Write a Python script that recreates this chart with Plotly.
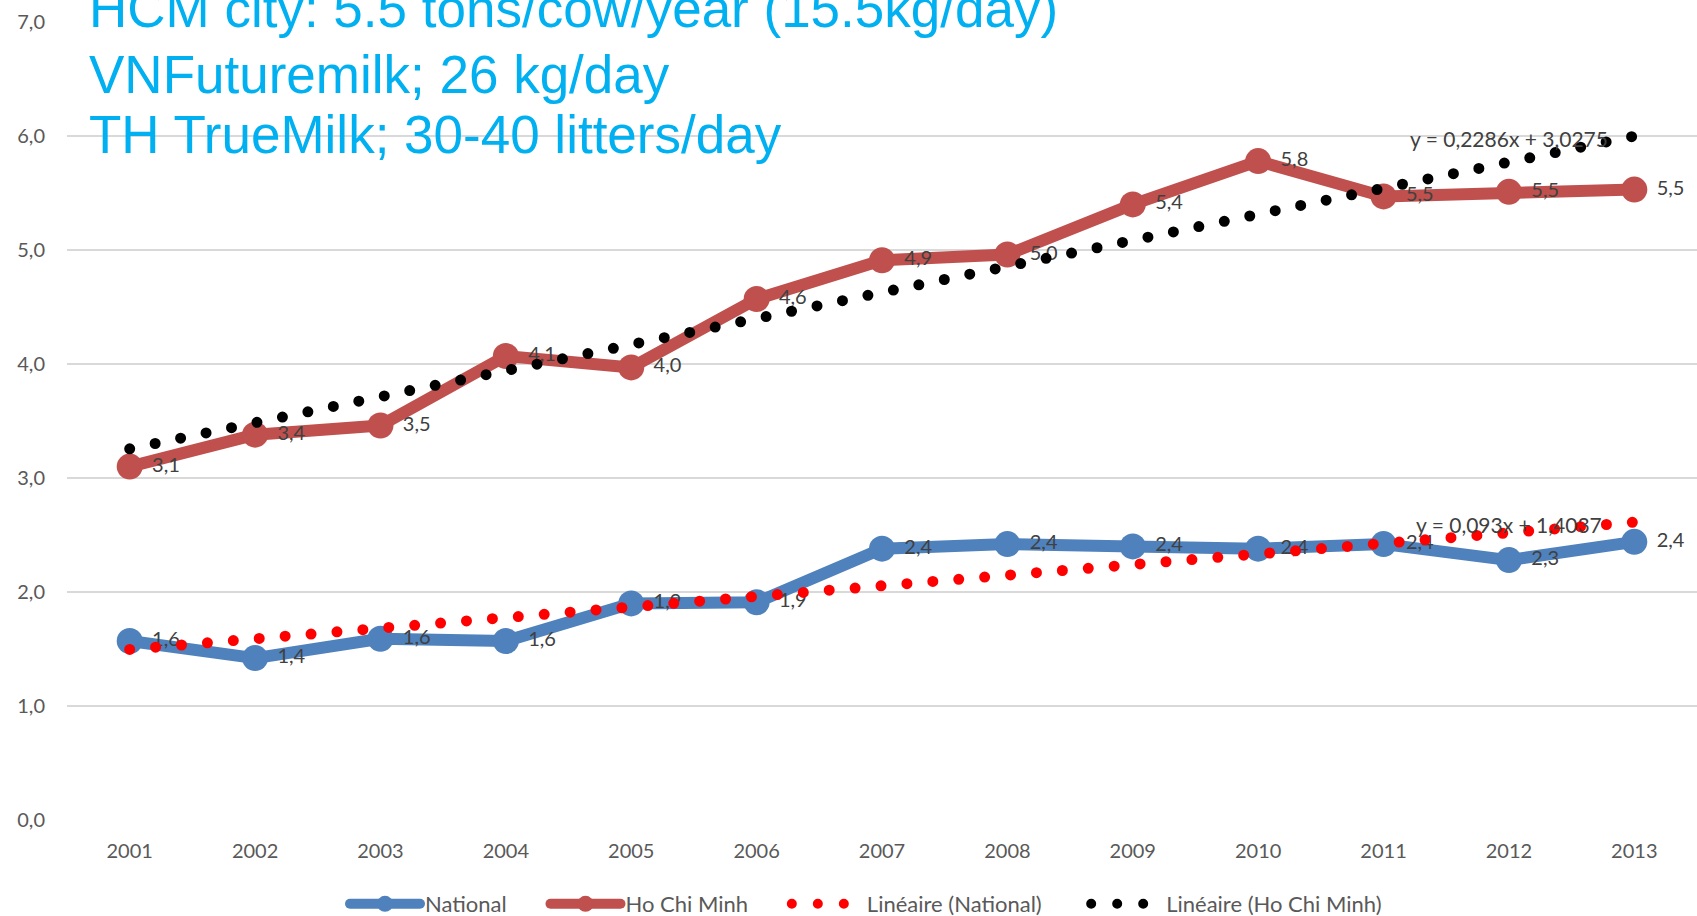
import plotly.graph_objects as go

# ---------------- data ----------------
years = [2001, 2002, 2003, 2004, 2005, 2006, 2007, 2008, 2009, 2010, 2011, 2012, 2013]
national = [1.57, 1.42, 1.59, 1.57, 1.90, 1.91, 2.38, 2.42, 2.40, 2.38, 2.42, 2.28, 2.44]
hcm = [3.10, 3.38, 3.46, 4.07, 3.97, 4.57, 4.91, 4.96, 5.40, 5.78, 5.47, 5.51, 5.53]

# linear trendlines shown in the chart: y = a*x + b, x = 1..13
trend_nat = (0.093, 1.4037)
trend_hcm = (0.2286, 3.0275)

y_ticks = [0, 1, 2, 3, 4, 5, 6, 7]
series_names = ["National", "Ho Chi Minh", "Linéaire (National)", "Linéaire (Ho Chi Minh)"]
title_lines = [
    "HCM city: 5.5 tons/cow/year (15.5kg/day)",
    "VNFuturemilk; 26 kg/day",
    "TH TrueMilk; 30-40 litters/day",
]

C_NAT = "#4F81BD"
C_HCM = "#C0504D"
FONT = "Lato, Open Sans, sans-serif"
GREY = "#595959"
LBL = "#404040"
PAD = "\u00a0" * 6
PAD3 = "\u00a0" * 7


def fmt(v):
    return f"{v:.1f}".replace(".", ",")


def trend_pts(coef):
    a, b = coef
    xs = [years[0], years[-1]]
    ys = [a * 1 + b, a * len(years) + b]
    return xs, ys


def eq_text(coef):
    a, b = coef
    return f"y = {a}x + {b}".replace(".", ",")


fig = go.Figure()

fig.add_trace(go.Scatter(
    x=years, y=national, name=series_names[0] + PAD, mode="lines+markers+text",
    line=dict(color=C_NAT, width=12), marker=dict(color=C_NAT, size=26),
    text=[" " + fmt(v) for v in national], textposition="middle right",
    textfont=dict(family=FONT, size=20, color=LBL), cliponaxis=False,
))
fig.add_trace(go.Scatter(
    x=years, y=hcm, name=series_names[1] + PAD, mode="lines+markers+text",
    line=dict(color=C_HCM, width=12), marker=dict(color=C_HCM, size=26),
    text=[" " + fmt(v) for v in hcm], textposition="middle right",
    textfont=dict(family=FONT, size=20, color=LBL), cliponaxis=False,
))

tx, ty = trend_pts(trend_nat)
fig.add_trace(go.Scatter(
    x=tx, y=ty, name=series_names[2] + PAD3, mode="lines",
    line=dict(color="#FF0000", width=11, dash="0px,26px"),
))
tx2, ty2 = trend_pts(trend_hcm)
fig.add_trace(go.Scatter(
    x=tx2, y=ty2, name=series_names[3], mode="lines",
    line=dict(color="#000000", width=11, dash="0px,26px"),
))

# trendline equations
fig.add_annotation(x=2012, y=5.98, text=eq_text(trend_hcm), showarrow=False,
                   font=dict(family=FONT, size=21, color=LBL))
fig.add_annotation(x=2012, y=2.59, text=eq_text(trend_nat), showarrow=False,
                   font=dict(family=FONT, size=21, color=LBL))

# title text block (pixel rows of each line centre)
for line, py in zip(title_lines, [9, 75, 134]):
    fig.add_annotation(
        xref="paper", yref="paper", x=(87 - 67) / 1630, y=(820 - py) / 798,
        xanchor="left", yanchor="middle", text=line, showarrow=False,
        font=dict(family="Liberation Sans, Arial, sans-serif", size=53, color="#00B0F0"),
    )

fig.update_layout(
    width=1697, height=916,
    margin=dict(l=67, r=0, t=22, b=96, autoexpand=False),
    paper_bgcolor="white", plot_bgcolor="white",
    separators=", ",
    showlegend=True,
    legend=dict(orientation="h", xref="container", yref="container",
                x=866 / 1697, xanchor="center", y=1 - 904 / 916, yanchor="middle",
                font=dict(family=FONT, size=22, color=GREY), itemwidth=70,
                bgcolor="rgba(0,0,0,0)"),
    font=dict(family=FONT, color=GREY),
)
fig.update_xaxes(
    range=[2000.5, 2013.5], tickvals=years, ticktext=[str(y) for y in years],
    showgrid=False, zeroline=False, showline=False, ticks="",
    tickfont=dict(family=FONT, size=20, color=GREY), ticklabelstandoff=17,
)
fig.update_yaxes(
    range=[0, 7], tickvals=y_ticks, tickformat=".1f",
    showgrid=True, gridcolor="#D9D9D9", gridwidth=2, zeroline=False, showline=False,
    ticks="", tickfont=dict(family=FONT, size=20, color=GREY), ticklabelstandoff=21,
)

css = ("var s=document.createElement('style');"
       "s.innerHTML='html,body{margin:0;padding:0;overflow:hidden;}"
       ".js-line{stroke-linecap:round !important;stroke-linejoin:round !important;}';"
       "document.head.appendChild(s);")
fig.write_html("out.html", post_script=css, config={"displayModeBar": False})
